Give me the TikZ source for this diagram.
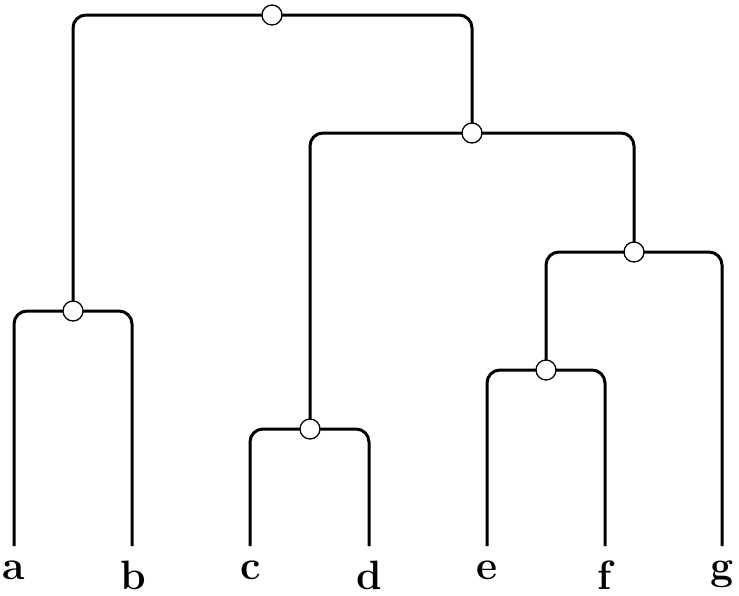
\documentclass[tikz,border=0pt]{standalone}
\begin{document}
\begin{tikzpicture}[x=1pt,y=-1pt,
  branch/.style={line width=3pt, rounded corners=13pt, line cap=butt},
  junc/.style={circle, draw, fill=white, line width=1.3pt, minimum size=20pt, inner sep=0pt},
  lab/.style={anchor=north, inner sep=0pt, font=\fontsize{41}{48}\selectfont\bfseries}]
\useasboundingbox (0,0) rectangle (739,595);
% leaf ends
\coordinate (la) at (14,546);
\coordinate (lb) at (132,546);
\coordinate (lc) at (250,546);
\coordinate (ld) at (369,546);
\coordinate (le) at (487,546);
\coordinate (lf) at (605,546);
\coordinate (lg) at (722,546);
% junction centres
\coordinate (jab) at (73,311);
\coordinate (jcd) at (310,429);
\coordinate (jef) at (546,370);
\coordinate (jefg) at (634,252);
\coordinate (jcdefg) at (472,133);
\coordinate (jroot) at (272,15);
% branches
\draw[branch] (la) |- (jab) -| (lb);
\draw[branch] (lc) |- (jcd) -| (ld);
\draw[branch] (le) |- (jef) -| (lf);
\draw[branch] (jef) |- (jefg) -| (lg);
\draw[branch] (jcd) |- (jcdefg) -| (jefg);
\draw[branch] (jab) |- (jroot) -| (jcdefg);
% junction nodes
\node[junc] (nab) at (jab) {};
\node[junc] (ncd) at (jcd) {};
\node[junc] (nef) at (jef) {};
\node[junc] (nefg) at (jefg) {};
\node[junc] (ncdefg) at (jcdefg) {};
\node[junc] (nroot) at (jroot) {};
% labels
\node[lab] (ta) at (14,561) {a};
\node[lab] (tb) at (133,561) {b};
\node[lab] (tc) at (251,561) {c};
\node[lab] (td) at (369,561) {d};
\node[lab] (te) at (487,561) {e};
\node[lab] (tf) at (605,561) {f};
\node[lab] (tg) at (722,561) {g};
\end{tikzpicture}
\end{document}
